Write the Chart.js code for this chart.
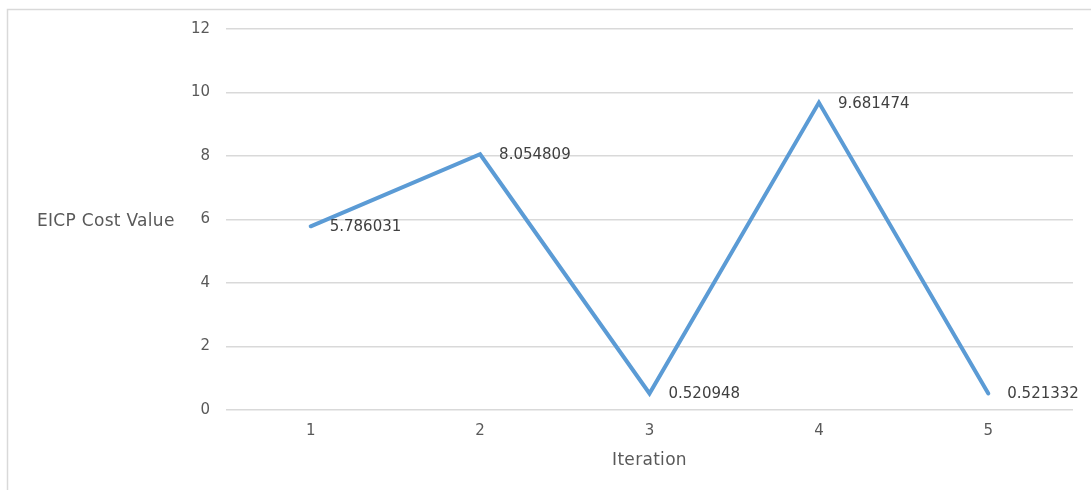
<!DOCTYPE html>
<html>
<head>
<meta charset="utf-8">
<script src="https://cdn.jsdelivr.net/npm/chart.js@4/dist/chart.umd.min.js"></script>
<style>
  html, body { margin: 0; padding: 0; background: #fff; }
  #wrap { width: 1091px; height: 490px; position: relative; }
</style>
</head>
<body>
<div id="wrap"><canvas id="c" width="1091" height="490"></canvas></div>
<script>
// Iterations on the category axis
const iterations = ['1', '2', '3', '4', '5'];
// EICP cost value reached at each iteration
const costValues = [5.786031, 8.054809, 0.520948, 9.681474, 0.521332];
// Value axis ticks
const yTicks = [0, 2, 4, 6, 8, 10, 12];

const FONT = '"DejaVu Sans", Verdana, sans-serif';
const FONT_SIZE = 15;
const TITLE_SIZE = 17;
const TEXT = '#595959';
const GRID = '#d9d9d9';

// Outer frame of the chart object
const framePlugin = {
  id: 'frame',
  beforeDraw(chart) {
    const ctx = chart.ctx;
    ctx.save();
    ctx.fillStyle = '#fff';
    ctx.fillRect(0, 0, chart.width, chart.height);
    ctx.strokeStyle = GRID;
    ctx.lineWidth = 1.5;
    ctx.strokeRect(7.5, 9.5, chart.width + 20, chart.height + 20);
    ctx.restore();
  }
};

// Value labels right of each point, plus both axis titles
const labelPlugin = {
  id: 'valueLabels',
  afterDatasetsDraw(chart) {
    const ctx = chart.ctx;
    const meta = chart.getDatasetMeta(0);
    ctx.save();
    ctx.font = FONT_SIZE + 'px ' + FONT;
    ctx.fillStyle = '#404040';
    ctx.textAlign = 'left';
    ctx.textBaseline = 'middle';
    meta.data.forEach((pt, i) => {
      ctx.fillText(String(costValues[i]), pt.x + 19, pt.y + 1);
    });
    // axis titles in a slightly larger size
    ctx.font = TITLE_SIZE + 'px ' + FONT;
    if ('letterSpacing' in ctx) ctx.letterSpacing = '0.3px';
    ctx.fillStyle = TEXT;
    // value-axis title, horizontal, level with the 6 gridline
    const y = chart.scales.y.getPixelForValue(6);
    ctx.fillText('EICP Cost Value', 37, y + 2);
    // category-axis title centred under the plot
    const area = chart.chartArea;
    ctx.textAlign = 'center';
    ctx.fillText('Iteration', (area.left + area.right) / 2, area.bottom + 51);
    if ('letterSpacing' in ctx) ctx.letterSpacing = '0px';
    ctx.restore();
  }
};

new Chart(document.getElementById('c'), {
  type: 'line',
  data: {
    labels: iterations,
    datasets: [{
      data: costValues,
      borderColor: '#5B9BD5',
      borderWidth: 4,
      borderCapStyle: 'round',
      borderJoinStyle: 'miter',
      pointRadius: 0,
      pointHoverRadius: 0,
      tension: 0,
      fill: false
    }]
  },
  options: {
    responsive: false,
    animation: false,
    events: [],
    layout: { padding: { left: 0, right: 18, top: 29, bottom: 0 } },
    plugins: {
      legend: { display: false },
      tooltip: { enabled: false }
    },
    scales: {
      x: {
        type: 'category',
        offset: true,
        grid: { display: false, drawTicks: false },
        border: { display: false },
        ticks: {
          color: TEXT,
          font: { family: FONT, size: FONT_SIZE },
          padding: 12
        },
        afterFit(s) { s.height = 80; }
      },
      y: {
        min: 0,
        max: 12,
        afterBuildTicks(s) { s.ticks = yTicks.map(v => ({ value: v })); },
        grid: { color: GRID, lineWidth: 1.5, drawTicks: false },
        border: { display: false },
        ticks: {
          color: TEXT,
          font: { family: FONT, size: FONT_SIZE },
          padding: 16
        },
        afterFit(s) { s.width = 226; }
      }
    }
  },
  plugins: [framePlugin, labelPlugin]
});
</script>
</body>
</html>
